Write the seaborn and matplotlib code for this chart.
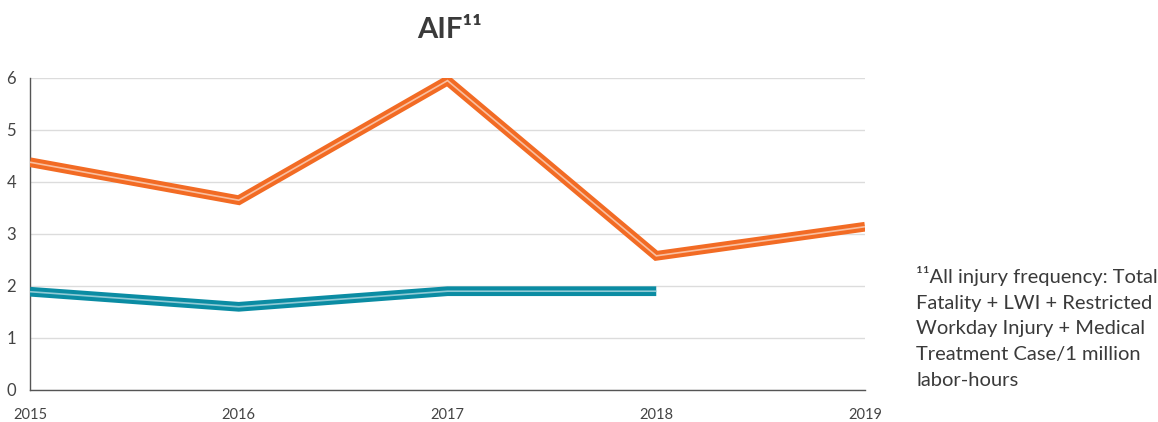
import matplotlib
matplotlib.use("Agg")
import matplotlib.pyplot as plt
import seaborn as sns
import pandas as pd
import numpy as np

years = [2015, 2016, 2017, 2018, 2019]
orange_vals = [4.38, 3.65, 5.95, 2.58, 3.14]
blue_vals = [1.89, 1.60, 1.90, 1.90, np.nan]
y_ticks = [0, 1, 2, 3, 4, 5, 6]
title = "AIF\u00b9\u00b9"
footnote = ("\u00b9\u00b9All injury frequency: Total\nFatality + LWI + Restricted\n"
            "Workday Injury + Medical\nTreatment Case/1 million\nlabor-hours")

sns.set_theme(style="white")
plt.rcParams['font.family'] = ['Lato', 'DejaVu Sans']

df = pd.DataFrame({
    "year": years * 2,
    "value": orange_vals + blue_vals,
    "series": ["orange"] * 5 + ["blue"] * 5,
})

fig = plt.figure(figsize=(11.58, 4.22), dpi=100)
ax = fig.add_axes([30/1158, 1 - 390/422, (865 - 30)/1158, (390 - 78)/422])

main_colors = {"orange": "#F26B24", "blue": "#0B8CA3"}
inner_colors = {"orange": "#F9BFA0", "blue": "#8FCAD5"}

sns.lineplot(data=df, x="year", y="value", hue="series", palette=main_colors,
             linewidth=7, ax=ax, legend=False, solid_joinstyle="miter",
             solid_capstyle="butt", zorder=3)
sns.lineplot(data=df, x="year", y="value", hue="series", palette=inner_colors,
             linewidth=1.2, ax=ax, legend=False, solid_joinstyle="miter",
             solid_capstyle="butt", zorder=4)

ax.set_xlim(2015, 2019)
ax.set_ylim(0, 6)
ax.set_xticks(years)
ax.set_xticklabels([str(y) for y in years], fontsize=10.5, color="#444444")
ax.set_yticks(y_ticks)
ax.set_yticklabels([str(t) for t in y_ticks], fontsize=12, color="#444444")
ax.set_xlabel("")
ax.set_ylabel("")

ax.yaxis.grid(True, color="#dcdcdc", linewidth=1)
ax.xaxis.grid(False)
ax.set_axisbelow(True)
for s in ["top", "right"]:
    ax.spines[s].set_visible(False)
for s in ["left", "bottom"]:
    ax.spines[s].set_color("#555555")
    ax.spines[s].set_linewidth(1)
ax.tick_params(axis="both", direction="in", length=5, width=1, color="#555555")
ax.tick_params(axis="x", pad=13)
ax.tick_params(axis="y", pad=10)
for lbl in ax.get_xticklabels():
    lbl.set_clip_on(False)

fig.text(450/1158, 1 - 30/422, title, ha="center", va="center",
         fontsize=21, fontweight="bold", color="#3a3a3a")
fig.text(916/1158, 1 - 266/422, footnote, ha="left", va="top",
         fontsize=14.5, color="#3a3a3a", linespacing=1.62)

fig.savefig("out.png", dpi=100)
